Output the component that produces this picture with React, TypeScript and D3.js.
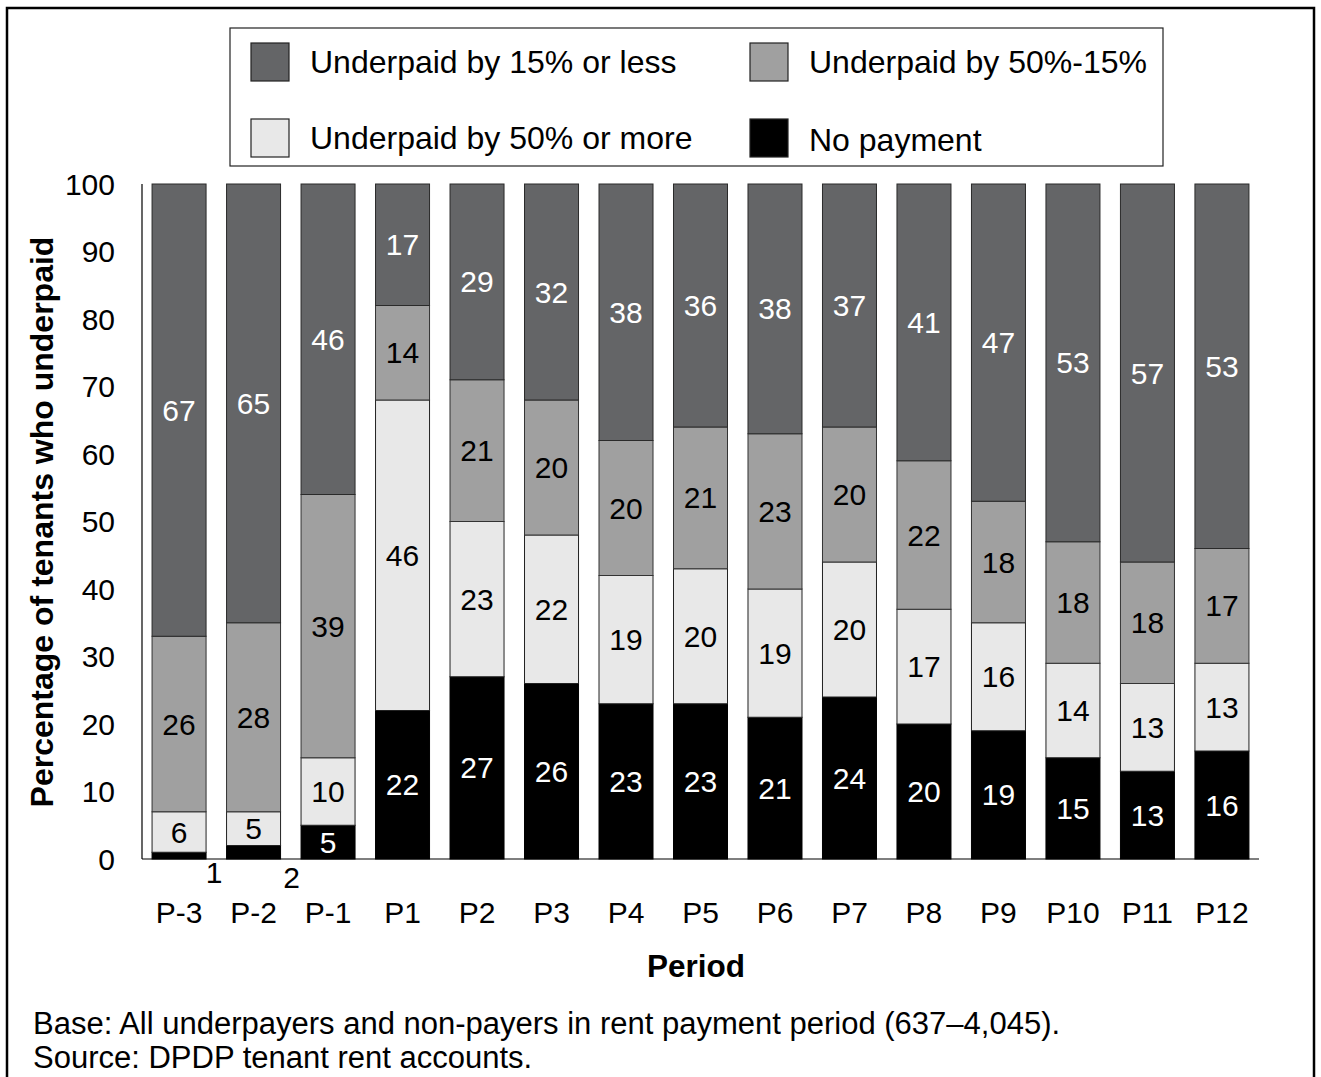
import React from 'react';
import * as d3 from 'd3';

const periods = ['P-3', 'P-2', 'P-1', 'P1', 'P2', 'P3', 'P4', 'P5', 'P6', 'P7', 'P8', 'P9', 'P10', 'P11', 'P12'];
const noPayment = [1, 2, 5, 22, 27, 26, 23, 23, 21, 24, 20, 19, 15, 13, 16];
const underpaid50More = [6, 5, 10, 46, 23, 22, 19, 20, 19, 20, 17, 16, 14, 13, 13];
const underpaid50to15 = [26, 28, 39, 14, 21, 20, 20, 21, 23, 20, 22, 18, 18, 18, 17];
const underpaid15Less = [67, 65, 46, 17, 29, 32, 38, 36, 38, 37, 41, 47, 53, 57, 53];
const yTicks = [0, 10, 20, 30, 40, 50, 60, 70, 80, 90, 100];

const seriesNames = ['No payment', 'Underpaid by 50% or more', 'Underpaid by 50%-15%', 'Underpaid by 15% or less'];
const seriesValues = [noPayment, underpaid50More, underpaid50to15, underpaid15Less];
const seriesFill = ['#000000', '#e8e8e8', '#a0a0a0', '#646567'];
const seriesStroke = ['#000000', '#222222', '#333333', '#2a2a2a'];
const seriesText = ['#ffffff', '#000000', '#000000', '#ffffff'];

const FONT = '"Liberation Sans", Arial, Helvetica, sans-serif';

export default function App() {
  const W = 1321;
  const H = 1077;
  const x = d3.scaleBand<string>().domain(periods).range([142, 1259]).paddingInner(0.275).paddingOuter(0.135);
  const y = d3.scaleLinear().domain([0, 100]).range([859, 184]);

  const rows = periods.map((p, i) => {
    const r: any = { period: p };
    seriesNames.forEach((n, k) => (r[n] = seriesValues[k][i]));
    return r;
  });
  const stacked = d3.stack<any>().keys(seriesNames)(rows);
  const nS = stacked.length;

  const legendItems = [
    { k: 3, x: 251, y: 43 },
    { k: 2, x: 750, y: 43 },
    { k: 1, x: 251, y: 119 },
    { k: 0, x: 750, y: 119 },
  ];

  return (
    <svg width={W} height={H} style={{ position: 'absolute', left: 0, top: 0, background: '#fff' }} fontFamily={FONT}>
      <rect x={7} y={8} width={1307} height={1100} fill="#fff" stroke="#000" strokeWidth={2.5} />

      {/* legend */}
      <rect x={230} y={28} width={933} height={138} fill="#fff" stroke="#222" strokeWidth={1.2} />
      {legendItems.map((it) => (
        <g key={it.k}>
          <rect x={it.x} y={it.y} width={38} height={38} fill={seriesFill[it.k]} stroke="#222" strokeWidth={1.2} />
          <text x={it.x + 59} y={it.y + 19 + (it.k === 0 ? 2 : 0)} dominantBaseline="central" fontSize={32} fill="#000">
            {seriesNames[it.k]}
          </text>
        </g>
      ))}

      {/* bars */}
      {stacked.map((s, k) => (
        <g key={s.key}>
          {s.map((d, i) => {
            const y0 = d[0];
            const y1 = k === nS - 1 ? 100 : d[1];
            const bx = x(periods[i]) as number;
            return (
              <rect
                key={i}
                x={bx}
                y={y(y1)}
                width={x.bandwidth()}
                height={y(y0) - y(y1)}
                fill={seriesFill[k]}
                stroke={seriesStroke[k]}
                strokeWidth={1}
              />
            );
          })}
        </g>
      ))}

      {/* value labels */}
      {stacked.map((s, k) => (
        <g key={'l' + s.key}>
          {s.map((d, i) => {
            const v = seriesValues[k][i];
            const y0 = d[0];
            const y1 = k === nS - 1 ? 100 : d[1];
            const bx = x(periods[i]) as number;
            if (v < 3) {
              return (
                <text key={i} x={bx + x.bandwidth() + 8 + (v - 1) * 3} y={y(0) + 13 + (v - 1) * 5} dominantBaseline="central" textAnchor="middle" fontSize={30} fill="#000">
                  {v}
                </text>
              );
            }
            return (
              <text key={i} x={bx + x.bandwidth() / 2} y={y((y0 + y1) / 2)} dominantBaseline="central" textAnchor="middle" fontSize={30} fill={seriesText[k]}>
                {v}
              </text>
            );
          })}
        </g>
      ))}

      {/* axes */}
      <line x1={142} x2={142} y1={184} y2={859} stroke="#000" strokeWidth={1.2} />
      <line x1={142} x2={1259} y1={859} y2={859} stroke="#000" strokeWidth={1.2} />
      {yTicks.map((t) => (
        <text key={t} x={115} y={y(t)} textAnchor="end" dominantBaseline="central" fontSize={30} fill="#000">
          {t}
        </text>
      ))}
      {periods.map((p) => (
        <text key={p} x={(x(p) as number) + x.bandwidth() / 2} y={912} textAnchor="middle" dominantBaseline="central" fontSize={30} fill="#000">
          {p}
        </text>
      ))}
      <text x={696} y={966} textAnchor="middle" dominantBaseline="central" fontSize={31.5} fontWeight="bold" fill="#000">
        Period
      </text>
      <text transform="translate(42,522) rotate(-90)" textAnchor="middle" dominantBaseline="central" fontSize={32} fontWeight="bold" fill="#000">
        Percentage of tenants who underpaid
      </text>
      <text x={33} y={1023} dominantBaseline="central" fontSize={31} fill="#000">
        Base: All underpayers and non-payers in rent payment period (637–4,045).
      </text>
      <text x={33} y={1057} dominantBaseline="central" fontSize={31} fill="#000">
        Source: DPDP tenant rent accounts.
      </text>
    </svg>
  );
}
